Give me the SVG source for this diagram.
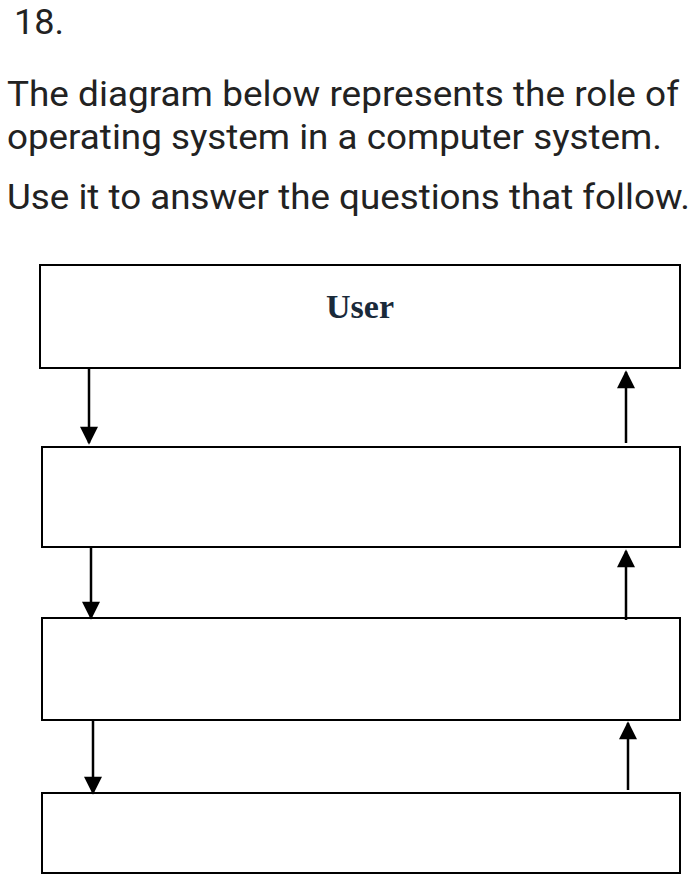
<svg xmlns="http://www.w3.org/2000/svg" width="693" height="878" viewBox="0 0 693 878">
<style>
.t{font-family:Roboto,"Liberation Sans",sans-serif;font-size:35px;fill:#222}
.b{fill:#fff;stroke:#000;stroke-width:2}
.c{stroke:#000;stroke-width:2.5;fill:none}
</style>
<defs><marker id="h" viewBox="0 0 10 10" refX="9" refY="5" markerWidth="20" markerHeight="18" orient="auto" markerUnits="userSpaceOnUse"><path d="M0,0L10,5L0,10z" fill="#000"/></marker></defs>
<rect width="693" height="878" fill="#fff"/>
<text class="t" x="14" y="34" textLength="50" lengthAdjust="spacingAndGlyphs">18.</text>
<text class="t" x="7" y="106" textLength="672" lengthAdjust="spacingAndGlyphs">The diagram below represents the role of</text>
<text class="t" x="7" y="149" textLength="655" lengthAdjust="spacingAndGlyphs">operating system in a computer system.</text>
<text class="t" x="7" y="209" textLength="683" lengthAdjust="spacingAndGlyphs">Use it to answer the questions that follow.</text>
<g id="user"><rect class="b" x="40" y="265" width="640" height="103"/><text x="360" y="318" text-anchor="middle" font-family="Liberation Serif,serif" font-weight="bold" font-size="34" fill="#1a2a3a">User</text></g>
<g id="n2"><rect class="b" x="42" y="447" width="638" height="100"/></g>
<g id="n3"><rect class="b" x="42" y="618" width="638" height="102"/></g>
<g id="n4"><rect class="b" x="42" y="793" width="638" height="80"/></g>
<g id="connectors">
<line class="c" x1="89" y1="368" x2="89" y2="443" marker-end="url(#h)"/>
<line class="c" x1="626" y1="443" x2="626" y2="372" marker-end="url(#h)"/>
<line class="c" x1="91" y1="547" x2="91" y2="618" marker-end="url(#h)"/>
<line class="c" x1="626" y1="620" x2="626" y2="551" marker-end="url(#h)"/>
<line class="c" x1="93" y1="720" x2="93" y2="793" marker-end="url(#h)"/>
<line class="c" x1="628" y1="790" x2="628" y2="723" marker-end="url(#h)"/>
</g>
</svg>
